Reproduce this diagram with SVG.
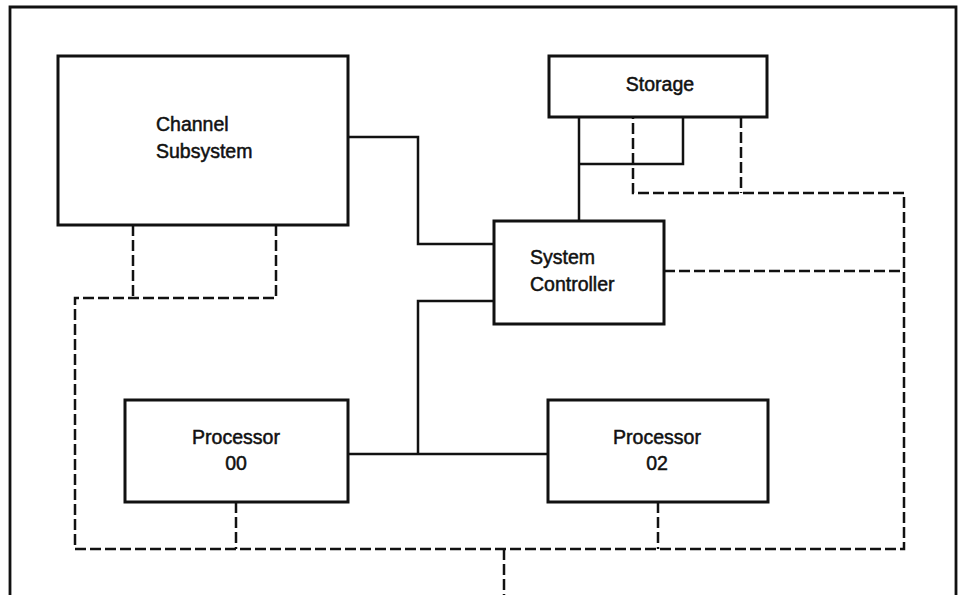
<svg xmlns="http://www.w3.org/2000/svg" width="959" height="595" viewBox="0 0 959 595">
  <style>
    .box { fill: #ffffff; stroke: #111111; stroke-width: 3; }
    .frame { fill: none; stroke: #111111; stroke-width: 2.8; }
    .solid { fill: none; stroke: #111111; stroke-width: 2.5; }
    .dash { fill: none; stroke: #111111; stroke-width: 2.5; stroke-dasharray: 11 4; }
    .lbl { font-family: "Liberation Sans", Arial, sans-serif; font-size: 19.5px; fill: #111111; stroke: #111111; stroke-width: 0.5; }
    .mid { text-anchor: middle; }
  </style>
  <rect width="959" height="595" fill="#ffffff"/>

  <!-- outer frame (open at the bottom) -->
  <path class="frame" d="M10,595 V7 H956 V595"/>

  <g id="connectors">
    <!-- solid data paths -->
    <path class="solid" d="M348,137 H418 V244 H494"/>
    <path class="solid" d="M494,301 H418 V454"/>
    <path class="solid" d="M348,454 H548"/>
    <path class="solid" d="M579,117 V221"/>
    <path class="solid" d="M579,164 H683 V117"/>

    <!-- dashed control paths -->
    <path class="dash" d="M133,225 V298"/>
    <path class="dash" d="M276,225 V298 H75 V549 H904 V193 H633 V117"/>
    <path class="dash" d="M741,117 V193"/>
    <path class="dash" d="M664,271 H904"/>
    <path class="dash" d="M236,502 V549"/>
    <path class="dash" d="M658,502 V549"/>
    <path class="dash" d="M504,549 V595"/>
  </g>

  <g id="channel-subsystem">
    <rect class="box" x="58" y="56" width="290" height="169"/>
    <text class="lbl" x="156" y="131">Channel</text>
    <text class="lbl" x="156" y="158">Subsystem</text>
  </g>

  <g id="storage">
    <rect class="box" x="549" y="56" width="218" height="61"/>
    <text class="lbl mid" x="660" y="91">Storage</text>
  </g>

  <g id="system-controller">
    <rect class="box" x="494" y="221" width="170" height="103"/>
    <text class="lbl" x="530" y="264">System</text>
    <text class="lbl" x="530" y="291">Controller</text>
  </g>

  <g id="processor-00">
    <rect class="box" x="125" y="400" width="223" height="102"/>
    <text class="lbl mid" x="236" y="444">Processor</text>
    <text class="lbl mid" x="236" y="470">00</text>
  </g>

  <g id="processor-02">
    <rect class="box" x="548" y="400" width="220" height="102"/>
    <text class="lbl mid" x="657" y="444">Processor</text>
    <text class="lbl mid" x="657" y="470">02</text>
  </g>
</svg>
